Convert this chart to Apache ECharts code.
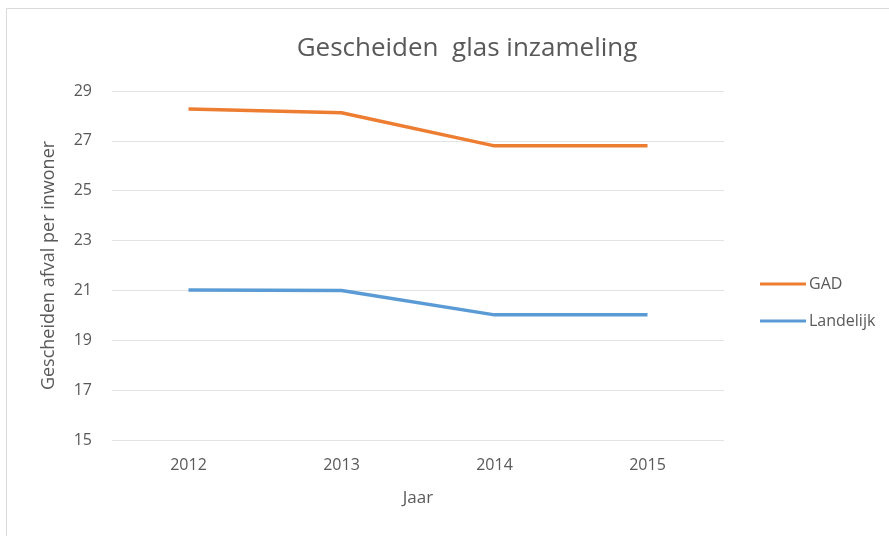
<!DOCTYPE html>
<html>
<head>
<meta charset="utf-8">
<script src="https://cdn.jsdelivr.net/npm/echarts@6/dist/echarts.min.js"></script>
<style>
  html, body { margin: 0; padding: 0; background: #fff; }
  #chart { width: 889px; height: 536px; }
</style>
</head>
<body>
<div id="chart"></div>
<script>
const years = ['2012', '2013', '2014', '2015']
const gad = [28.28, 28.13, 26.8, 26.8]
const landelijk = [21.02, 21.0, 20.02, 20.02]

const textColor = '#595959'
const font = 'Open Sans'

const chart = echarts.init(document.getElementById('chart'))

chart.setOption({
  animation: false,
  textStyle: { fontFamily: font },
  title: {
    text: 'Gescheiden  glas inzameling',
    left: 462,
    top: 31,
    textAlign: 'center',
    textStyle: { fontFamily: font, fontSize: 26, fontWeight: 'normal', color: textColor }
  },
  graphic: [{
    type: 'rect',
    shape: { x: 6.5, y: 8.5, width: 900, height: 540 },
    style: { fill: 'none', stroke: '#d9d9d9', lineWidth: 1 },
    silent: true
  }],
  legend: {
    orient: 'vertical',
    left: 755,
    top: 271,
    itemGap: 21,
    itemWidth: 46,
    itemHeight: 3,
    icon: 'rect',
    textStyle: { fontFamily: font, fontSize: 16, color: textColor, padding: [0, 0, 0, -2] },
    data: ['GAD', 'Landelijk']
  },
  grid: { left: 112, right: 165, top: 91, bottom: 96 },
  xAxis: {
    type: 'category',
    data: years,
    boundaryGap: true,
    name: 'Jaar',
    nameLocation: 'middle',
    nameGap: 50,
    nameTextStyle: { fontFamily: font, fontSize: 17, color: textColor },
    axisLine: { show: false },
    axisTick: { show: false },
    axisLabel: { fontFamily: font, fontSize: 16, color: textColor, margin: 17 }
  },
  yAxis: {
    type: 'value',
    min: 15,
    max: 29,
    interval: 2,
    name: 'Gescheiden afval per inwoner',
    nameLocation: 'middle',
    nameGap: 54,
    nameTextStyle: { fontFamily: font, fontSize: 18, color: textColor },
    axisLine: { show: false },
    axisTick: { show: false },
    axisLabel: { fontFamily: font, fontSize: 16, color: textColor, margin: 20 },
    splitLine: { lineStyle: { color: '#e3e3e3', width: 1 } }
  },
  series: [
    {
      name: 'GAD',
      type: 'line',
      data: gad,
      symbol: 'none',
      color: '#ED7D31',
      lineStyle: { width: 3.5, color: '#ED7D31' }
    },
    {
      name: 'Landelijk',
      type: 'line',
      data: landelijk,
      symbol: 'none',
      color: '#5B9BD5',
      lineStyle: { width: 3.5, color: '#5B9BD5' }
    }
  ]
})
</script>
</body>
</html>
